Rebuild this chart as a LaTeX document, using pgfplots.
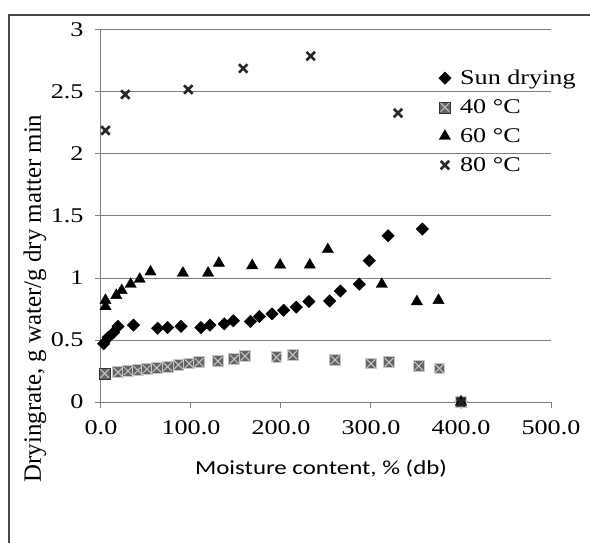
\documentclass[border=0pt]{standalone}
\usepackage{pgfplots}
\pgfplotsset{compat=1.18}
\usepackage{fontspec}
\setmainfont{Liberation Serif}[FakeStretch=1.25]
\newfontfamily\ylabfont{Liberation Serif}
\newfontfamily\xlabfont{Carlito}[FakeStretch=1.25]

\definecolor{gridgray}{RGB}{125,125,125}
\definecolor{framegray}{RGB}{70,70,70}
\definecolor{sqfill}{RGB}{100,100,100}
\definecolor{sqlight}{RGB}{200,200,200}

% grey square with a light cross, like the bevelled marker of the original
\pgfdeclareplotmark{pyramid}{%
  \pgfpathrectangle{\pgfqpoint{-\pgfplotmarksize}{-\pgfplotmarksize}}%
    {\pgfqpoint{2\pgfplotmarksize}{2\pgfplotmarksize}}%
  \pgfusepathqfillstroke
  \pgfsetstrokecolor{sqlight}%
  \pgfsetlinewidth{1pt}%
  \pgfpathmoveto{\pgfqpoint{-0.8\pgfplotmarksize}{-0.8\pgfplotmarksize}}%
  \pgfpathlineto{\pgfqpoint{0.8\pgfplotmarksize}{0.8\pgfplotmarksize}}%
  \pgfpathmoveto{\pgfqpoint{-0.8\pgfplotmarksize}{0.8\pgfplotmarksize}}%
  \pgfpathlineto{\pgfqpoint{0.8\pgfplotmarksize}{-0.8\pgfplotmarksize}}%
  \pgfusepathqstroke
}

\begin{document}
\begin{tikzpicture}
\useasboundingbox (-101bp,-141bp) rectangle (489bp,402bp);
\draw[framegray, line width=1.8bp] (489bp,387bp) -- (-92bp,387bp) -- (-92bp,-141bp);
\begin{axis}[
  at={(0,0)}, anchor=south west,
  scale only axis, width=450bp, height=372bp,
  xmin=0, xmax=500, ymin=0, ymax=3,
  axis x line=bottom, axis y line=left,
  axis line style={gridgray, line width=1bp, -},
  xtick={0,100,200,300,400,500},
  ytick={0,0.5,1,1.5,2,2.5,3},
  tick align=outside, major tick length=6bp,
  tick style={gridgray, line width=1bp},
  ymajorgrids, grid style={gridgray, line width=1bp},
  /pgf/number format/assume math mode=true,
  x tick label style={/pgf/number format/.cd, fixed, fixed zerofill, precision=1,
    /tikz/.cd, yshift=-9bp},
  y tick label style={xshift=-8bp},
  ticklabel style={font=\fontsize{21}{22}\selectfont},
  xlabel={\xlabfont Moisture content, \% (db)},
  xlabel style={at={(axis description cs:0.489,-0.155)}, anchor=north, inner sep=0pt,
    font=\fontsize{20}{21}\selectfont},
  ylabel={\ylabfont Dryingrate, g water/g dry matter min},
  ylabel style={at={(axis description cs:-0.147,0.278)}, anchor=center,
    font=\fontsize{25}{26}\selectfont},
  legend style={at={(rel axis cs:0.75,0.898)}, anchor=north west, draw=none, fill=none,
    font=\fontsize{21}{24}\selectfont, row sep=9.5bp, inner sep=0pt,
    /tikz/every odd column/.append style={column sep=7bp}},
  legend cell align=left,
]
\addplot[only marks, mark=square*, mark size=4.4bp,
  mark options={rotate=45, fill=black, draw=black}] coordinates {
  (3,0.47) (8,0.52) (14,0.56) (19,0.61) (36,0.62) (63,0.595) (74,0.60)
  (89,0.61) (111,0.60) (121,0.62) (137,0.63) (147,0.655) (166,0.65)
  (176,0.69) (190,0.71) (203,0.74) (217,0.765) (231,0.81) (254,0.815)
  (266,0.895) (287,0.95) (298,1.14) (319,1.34) (357,1.395) (400,0)
};
\addlegendentry{Sun drying}
\addplot[only marks, mark=pyramid, mark size=5.4bp,
  mark options={fill=sqfill, draw=black!80}] coordinates {
  (4,0.23) (19,0.24) (30,0.25) (41,0.255) (51,0.265) (62,0.275) (74,0.285)
  (86,0.30) (98,0.31) (109,0.32) (130,0.33) (148,0.345) (160,0.37)
  (195,0.36) (213,0.38) (260,0.34) (300,0.31) (320,0.32) (353,0.29)
  (376,0.27) (400,0)
};
\addlegendentry{40 °C}
\addplot[only marks, mark=triangle*, mark size=6.5bp,
  mark options={fill=black, draw=black}] coordinates {
  (5,0.77) (5,0.82) (17,0.86) (23,0.90) (33,0.95) (43,0.99) (55,1.05)
  (91,1.04) (119,1.04) (131,1.12) (168,1.10) (199,1.105) (232,1.105)
  (252,1.23) (312,0.95) (351,0.81) (375,0.82) (400,0)
};
\addlegendentry{60 °C}
\addplot[only marks, mark=x, mark size=6bp, line width=2.6bp,
  mark options={draw=black!85, line width=2.6bp}] coordinates {
  (5,2.19) (27,2.48) (97,2.52) (158,2.69) (233,2.79) (330,2.33) (400,0)
};
\addlegendentry{80 °C}
\end{axis}
\end{tikzpicture}
\end{document}
